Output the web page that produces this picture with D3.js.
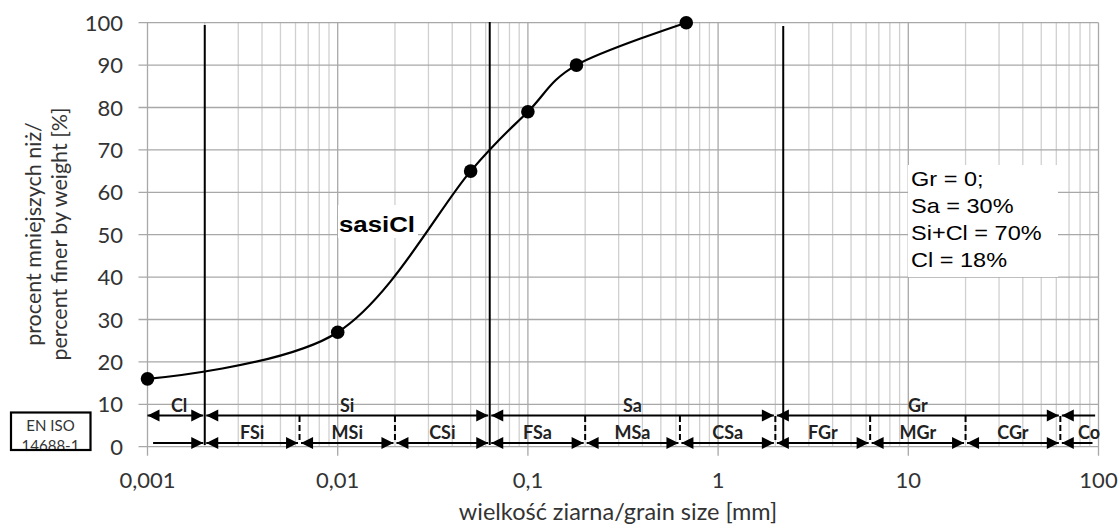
<!DOCTYPE html>
<html><head><meta charset="utf-8">
<script src="https://cdn.jsdelivr.net/npm/d3@7"></script>
<style>body{margin:0;background:#fff}svg{display:block}</style>
</head><body>
<svg id="c" width="1120" height="527"></svg>
<script>
// ---- data ----
const grainSize = [0.001, 0.01, 0.05, 0.1, 0.18, 0.68];
const percentFiner = [16, 27, 65, 79, 90, 100];
const xTickValues = [0.001, 0.01, 0.1, 1, 10, 100];
const xTickLabels = ["0,001", "0,01", "0,1", "1", "10", "100"];
const yTickValues = [0, 10, 20, 30, 40, 50, 60, 70, 80, 90, 100];
const boundaryLines = [0.002, 0.063, 2.2];
const mainLabels = ["Cl", "Si", "Sa", "Gr"];
const mainFrom = [0.001, 0.002, 0.063, 2];
const mainTo = [0.002, 0.063, 2, 63];
const subLabels = ["FSi", "MSi", "CSi", "FSa", "MSa", "CSa", "FGr", "MGr", "CGr"];
const subFrom = [0.002, 0.0063, 0.02, 0.063, 0.2, 0.63, 2, 6.3, 20];
const subTo = [0.0063, 0.02, 0.063, 0.2, 0.63, 2, 6.3, 20, 63];
const dashedBounds = [0.0063, 0.02, 0.2, 0.63, 2, 6.3, 20, 63];
const coLabel = "Co", coFrom = 63, coToUpper = 96, coToLower = 93;
const clLowerFrom = 0.00107;
const summaryLines = ["Gr = 0;", "Sa = 30%", "Si+Cl = 70%", "Cl = 18%"];
const soilName = "sasiCl";
const xTitle = "wielkość ziarna/grain size [mm]";
const yTitle = ["procent mniejszych niż/", "percent finer by weight [%]"];
const standardLabel = ["EN ISO", "14688-1"];

// ---- layout ----
const L = 147.5, R = 1098.5, T = 22.7, B = 446.7;
const svg = d3.select("#c");
const x = d3.scaleLog().domain([0.001, 100]).range([L, R]);
const y = d3.scaleLinear().domain([0, 100]).range([B, T]);
const FONT = "Lato, 'Open Sans', sans-serif";
const ARIAL = "'Liberation Sans', Arial, sans-serif";

// minor gridlines
const minor = [];
for (let e = -3; e < 2; e++) for (let m = 2; m <= 9; m++) minor.push(m * Math.pow(10, e));
svg.append("g").selectAll("line").data(minor).join("line")
  .attr("x1", d => x(d)).attr("x2", d => x(d)).attr("y1", T).attr("y2", B)
  .attr("stroke", "#d0d0d0").attr("stroke-width", 1.3);
// major vertical grid + tick marks
svg.append("g").selectAll("line").data(xTickValues).join("line")
  .attr("x1", d => x(d)).attr("x2", d => x(d)).attr("y1", T).attr("y2", B + 9)
  .attr("stroke", "#a8a8a8").attr("stroke-width", 1.3);
// horizontal grid + tick marks
svg.append("g").selectAll("line").data(yTickValues).join("line")
  .attr("x1", L - 9).attr("x2", R).attr("y1", d => y(d)).attr("y2", d => y(d))
  .attr("stroke", "#a8a8a8").attr("stroke-width", 1.3);

// axis labels
svg.append("g").selectAll("text").data(xTickValues).join("text")
  .attr("x", d => x(d)).attr("y", 488).attr("text-anchor", "middle")
  .attr("font-family", FONT).attr("font-size", 22).attr("fill", "#333")
  .text((d, i) => xTickLabels[i]);
svg.append("g").selectAll("text").data(yTickValues).join("text")
  .attr("x", 123).attr("y", d => y(d) + 8).attr("text-anchor", "end")
  .attr("font-family", FONT).attr("font-size", 22).attr("fill", "#333")
  .text(d => d);
svg.append("text").attr("x", 618).attr("y", 520).attr("text-anchor", "middle")
  .attr("font-family", FONT).attr("font-size", 23.5).attr("fill", "#333").text(xTitle);
yTitle.forEach((t, i) => {
  svg.append("text").attr("transform", `translate(${[41, 67][i]},234) rotate(-90)`)
    .attr("text-anchor", "middle").attr("font-family", FONT).attr("font-size", 21.5)
    .attr("fill", "#333").text(t);
});

// summary box
svg.append("rect").attr("x", 908).attr("y", 165).attr("width", 150).attr("height", 112).attr("fill", "#fff");
svg.append("g").attr("transform", "translate(911,0) scale(1.12,1)")
  .selectAll("text").data(summaryLines).join("text")
  .attr("x", 0).attr("y", (d, i) => 186 + i * 27)
  .attr("font-family", ARIAL).attr("font-size", 21)
  .attr("fill", "#000").text(d => d);

// soil name
svg.append("rect").attr("x", 338).attr("y", 205).attr("width", 80).attr("height", 33).attr("fill", "#fff");
svg.append("g").attr("transform", "translate(339,0) scale(1.2,1)")
  .append("text").attr("x", 0).attr("y", 232).attr("font-family", ARIAL)
  .attr("font-weight", "bold").attr("font-size", 21.5).attr("fill", "#000").text(soilName);

// boundary lines
svg.append("g").selectAll("line").data(boundaryLines).join("line")
  .attr("x1", d => x(d)).attr("x2", d => x(d)).attr("y1", (d, i) => [25, 22, 26][i]).attr("y2", 445)
  .attr("stroke", "#000").attr("stroke-width", 2);

// curve
const pts = grainSize.map((g, i) => [x(g), y(percentFiner[i])]);
svg.append("path").attr("d", d3.line().curve(d3.curveCardinal.tension(0))(pts))
  .attr("fill", "none").attr("stroke", "#000").attr("stroke-width", 2.2);
svg.append("g").selectAll("circle").data(pts).join("circle")
  .attr("cx", d => d[0]).attr("cy", d => d[1]).attr("r", 6.8).attr("fill", "#000");

// arrows
const gA = svg.append("g");
function head(tipX, yy, dir) {
  const len = 12, hw = 6;
  gA.append("path").attr("d", `M${tipX},${yy}L${tipX - dir * len},${yy - hw}L${tipX - dir * len},${yy + hw}Z`).attr("fill", "#000");
}
function arrow(x1, x2, yy, lh, rh) {
  gA.append("line").attr("x1", x1).attr("x2", x2).attr("y1", yy).attr("y2", yy).attr("stroke", "#000").attr("stroke-width", 2);
  if (lh) head(x1, yy, -1);
  if (rh) head(x2, yy, 1);
}
const yU = 415.5, yLw = 443;
const gap = 1.5;
mainLabels.forEach((lab, i) => {
  const a = x(mainFrom[i]) + (i === 0 ? 0 : gap), b = x(mainTo[i]) - gap;
  arrow(a, b, yU, true, true);
  gA.append("text").attr("x", (x(mainFrom[i]) + x(mainTo[i])) / 2 + (i === 0 ? 3 : 0)).attr("y", 412)
    .attr("text-anchor", "middle").attr("font-family", FONT).attr("font-weight", "bold")
    .attr("font-size", 18).attr("fill", "#222").text(lab);
});
arrow(x(coFrom) + gap, x(coToUpper), yU, true, false);
arrow(x(clLowerFrom), x(0.002) - gap, yLw, false, true);
subLabels.forEach((lab, i) => {
  arrow(x(subFrom[i]) + gap, x(subTo[i]) - gap, yLw, true, true);
  gA.append("text").attr("x", (x(subFrom[i]) + x(subTo[i])) / 2).attr("y", 439)
    .attr("text-anchor", "middle").attr("font-family", FONT).attr("font-weight", "bold")
    .attr("font-size", 18).attr("fill", "#222").text(lab);
});
arrow(x(coFrom) + gap, x(coToLower), yLw, true, false);
gA.append("text").attr("x", 1089).attr("y", 439)
  .attr("text-anchor", "middle").attr("font-family", FONT).attr("font-weight", "bold")
  .attr("font-size", 18).attr("fill", "#222").text(coLabel);
gA.selectAll(null).data(dashedBounds).join("line")
  .attr("x1", d => x(d)).attr("x2", d => x(d)).attr("y1", 416).attr("y2", 443)
  .attr("stroke", "#000").attr("stroke-width", 2).attr("stroke-dasharray", "6,3");

// standard box
svg.append("rect").attr("x", 11).attr("y", 412.5).attr("width", 79.5).attr("height", 37.5)
  .attr("fill", "#fff").attr("stroke", "#000").attr("stroke-width", 2.2);
svg.append("clipPath").attr("id", "bx").append("rect").attr("x", 11).attr("y", 412.5).attr("width", 79.5).attr("height", 36.5);
svg.append("g").attr("clip-path", "url(#bx)").selectAll("text").data(standardLabel).join("text")
  .attr("x", 50.5).attr("y", (d, i) => 431 + i * 20).attr("text-anchor", "middle")
  .attr("font-family", FONT).attr("font-size", 15).attr("fill", "#333").text(d => d);
</script>
</body></html>
